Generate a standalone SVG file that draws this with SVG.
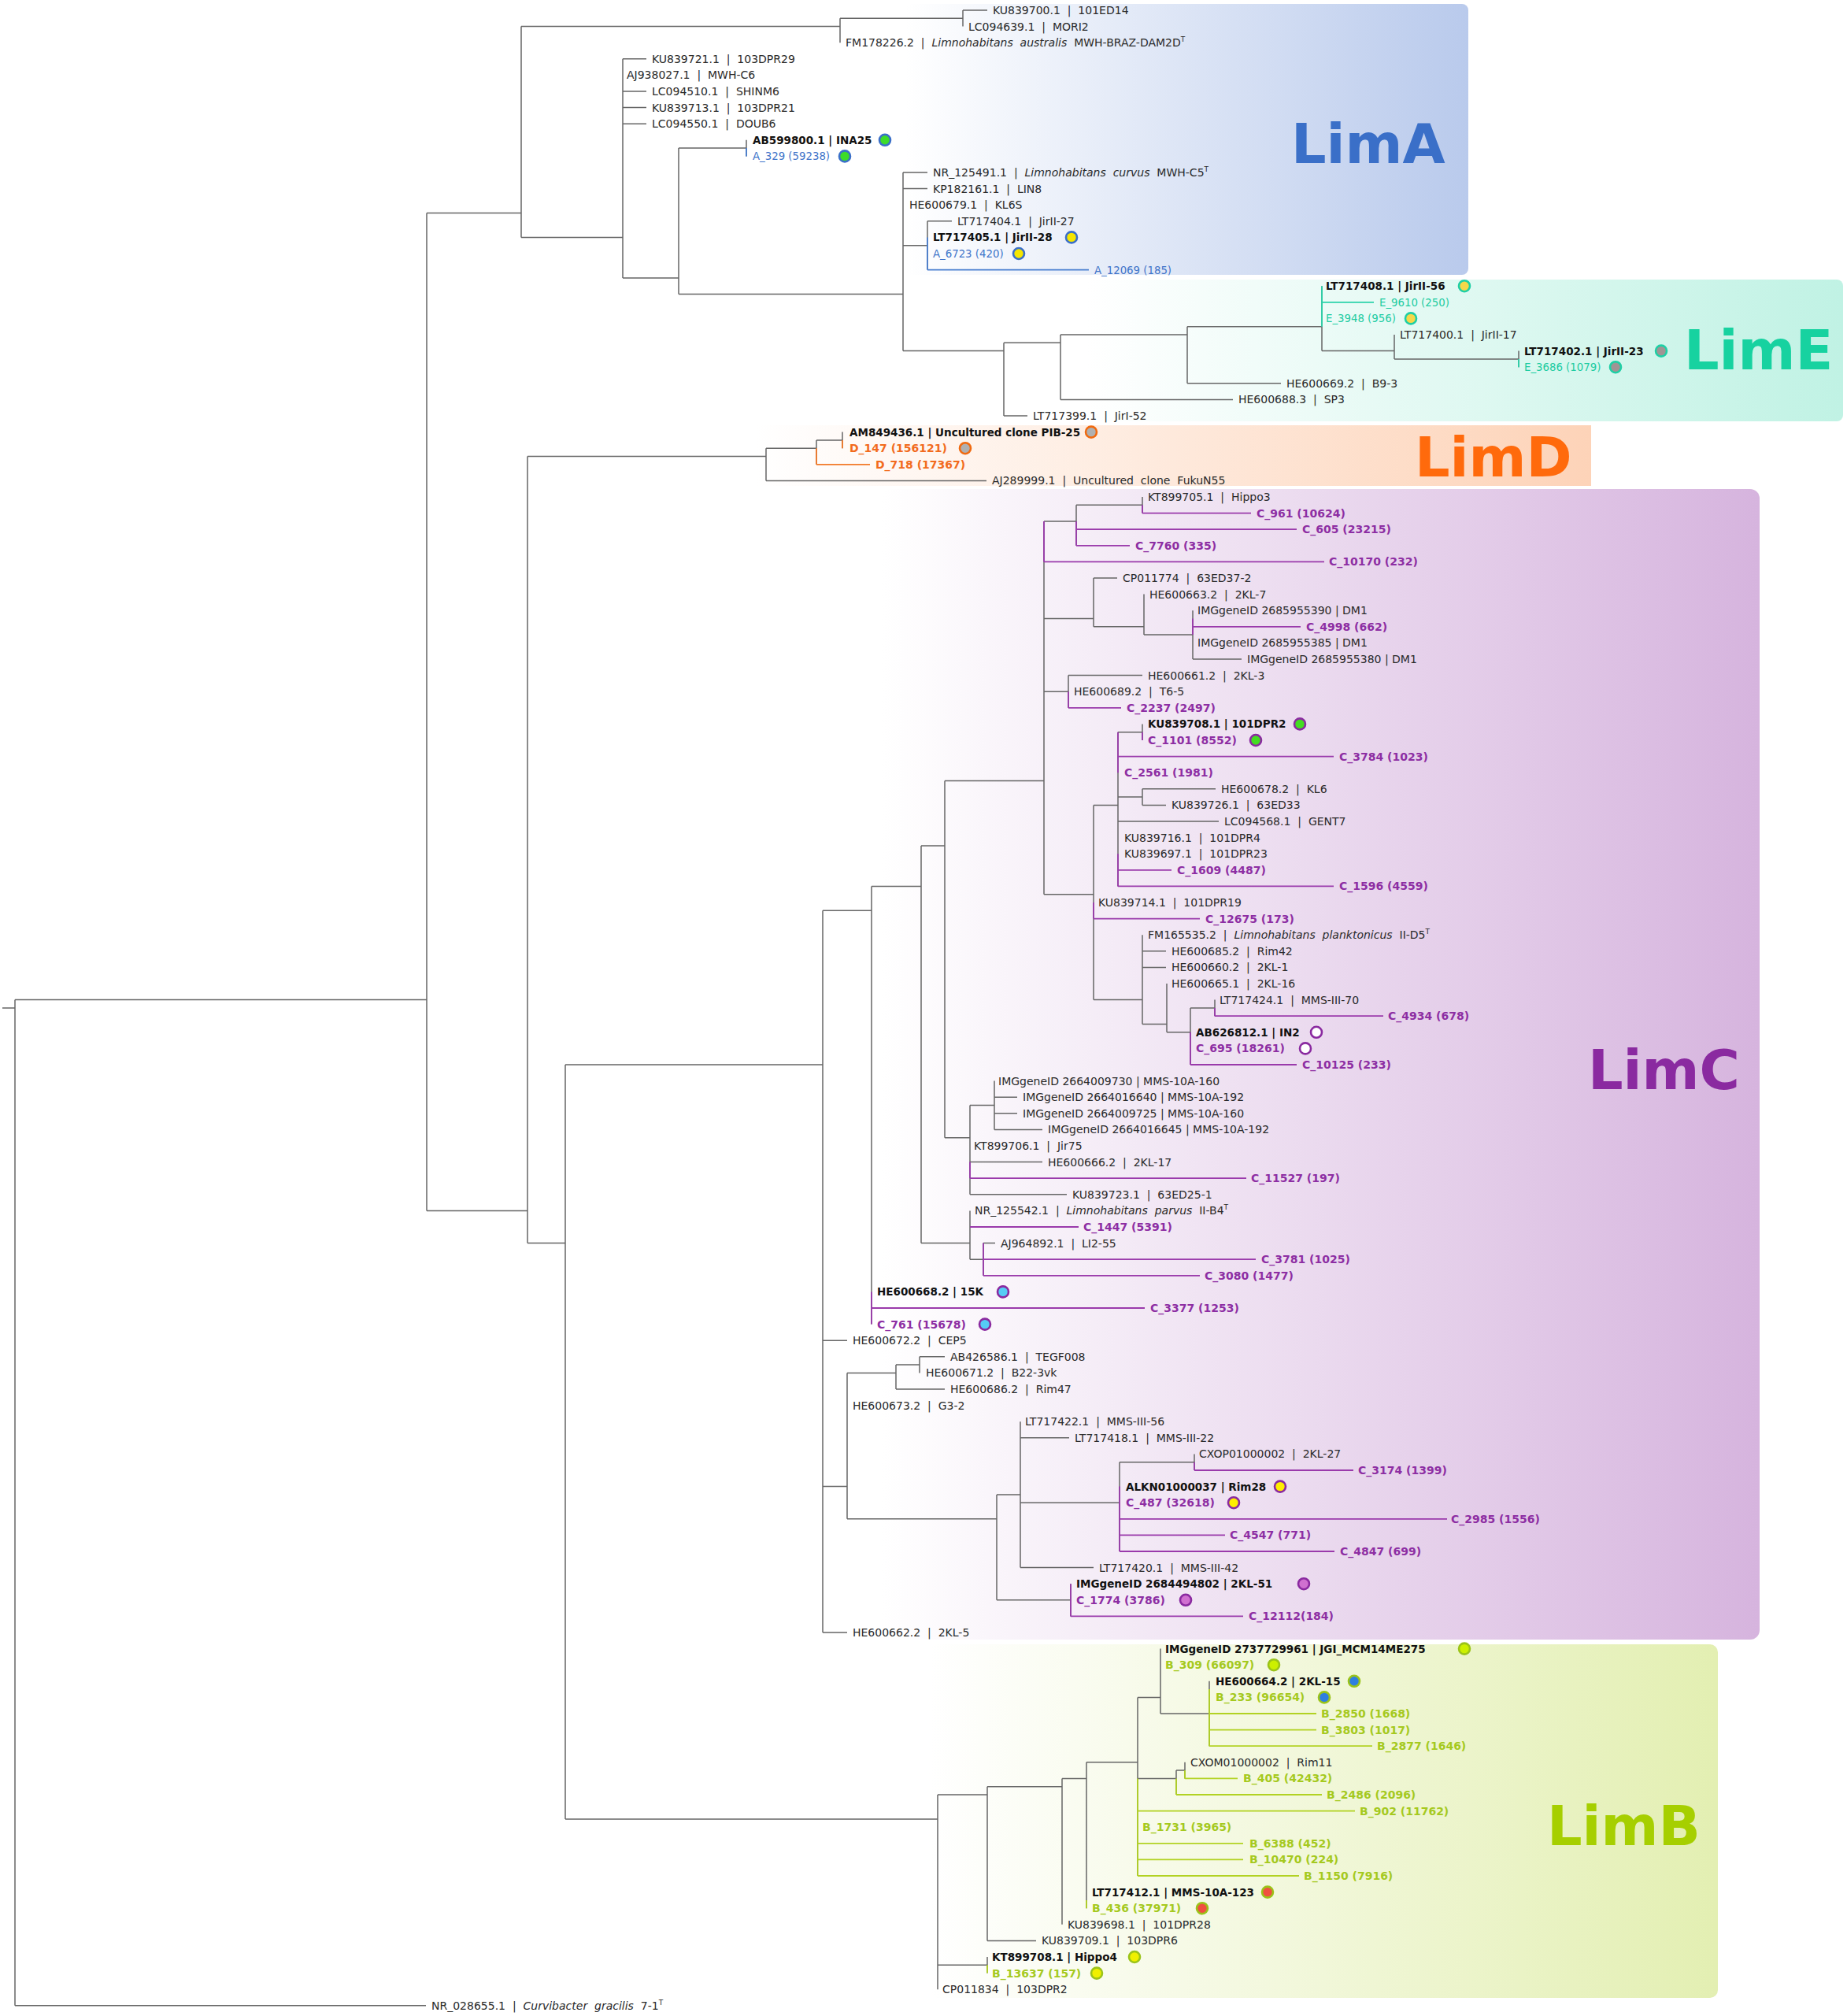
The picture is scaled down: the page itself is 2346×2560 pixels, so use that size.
<svg xmlns="http://www.w3.org/2000/svg" width="2346" height="2560" viewBox="0 0 2346 2560">
<defs>
<linearGradient id="gA" x1="0" y1="0" x2="1" y2="0"><stop offset="0" stop-color="#ffffff"/><stop offset="1" stop-color="#b9caec"/></linearGradient>
<linearGradient id="gE" x1="0" y1="0" x2="1" y2="0"><stop offset="0" stop-color="#ffffff"/><stop offset="1" stop-color="#c0f2e4"/></linearGradient>
<linearGradient id="gD" x1="0" y1="0" x2="1" y2="0"><stop offset="0" stop-color="#ffffff"/><stop offset="1" stop-color="#fdd3b8"/></linearGradient>
<linearGradient id="gC" x1="0" y1="0" x2="1" y2="0"><stop offset="0" stop-color="#ffffff"/><stop offset="1" stop-color="#d6b4de"/></linearGradient>
<linearGradient id="gB" x1="0" y1="0" x2="1" y2="0"><stop offset="0" stop-color="#ffffff"/><stop offset="1" stop-color="#e3efb2"/></linearGradient>
<style>
text{font-family:"DejaVu Sans","Liberation Sans",sans-serif}
.t{font-size:14px;fill:#2a2a2a}
.tb{font-size:13.5px;font-weight:bold;fill:#111}
.ta{font-size:13.3px;fill:#3f74c9}
.te{font-size:13.3px;fill:#1ccca2}
.td{font-size:14px;font-weight:bold;fill:#f26b1d}
.tc{font-size:14px;font-weight:bold;fill:#8d2ea3}
.tB{font-size:14px;font-weight:bold;fill:#a5c91e}
.title{font-size:70px;font-weight:bold}
.i{font-style:italic}
.sup{font-size:9px}
.gray{fill:none;stroke:#666;stroke-width:1.5}
.lA{fill:none;stroke:#4a7fd0;stroke-width:1.8}
.lE{fill:none;stroke:#2bd3aa;stroke-width:1.8}
.lD{fill:none;stroke:#f27a2a;stroke-width:1.8}
.lC{fill:none;stroke:#9a3aab;stroke-width:1.8}
.lB{fill:none;stroke:#b2d223;stroke-width:1.8}
circle{stroke-width:2.6}
.rA{stroke:#3a6fc8}.rE{stroke:#1fcfa5}.rD{stroke:#f06a10}.rC{stroke:#8a2aa0}.rB{stroke:#9bc31a}
</style>
</defs>
<rect width="2346" height="2560" fill="#ffffff"/>
<g id="clade-boxes">
<g id="box-LimA"><rect x="1150" y="5" width="715" height="344" rx="8" fill="url(#gA)"/><text class="title" x="1640" y="207" fill="#3a6fc8">LimA</text></g>
<g id="box-LimE"><rect x="1380" y="355" width="961" height="180" rx="8" fill="url(#gE)"/><text class="title" x="2139" y="469" fill="#17d2a0">LimE</text></g>
<g id="box-LimD"><rect x="960" y="540" width="1061" height="77" fill="url(#gD)"/><text class="title" x="1797" y="605" fill="#ff6a0c">LimD</text></g>
<g id="box-LimC"><rect x="1120" y="621" width="1115" height="1461" rx="12" fill="url(#gC)"/><text class="title" x="2017" y="1383" fill="#8a2aa0">LimC</text></g>
<g id="box-LimB"><rect x="1180" y="2088" width="1002" height="449" rx="10" fill="url(#gB)"/><text class="title" x="1965" y="2343" fill="#a6cf00">LimB</text></g>
</g>
<g id="connectors">
<path class="gray" d="M3 1279.9H19M19 1269.6V2546.8M19 1269.6H542M542 270.5V1537.4M542 270.5H662M662 33.6V301.4M662 33.6H1067M1067 23.3V54.2M1067 23.3H1223M1223 13V33.6M662 301.4H791M791 74.8V352.9M791 352.9H862M862 188.1V373.5M862 188.1H948M948 177.8V198.4M862 373.5H1147M1147 219V445.6M1147 311.7H1178M1178 280.8V342.6M1147 445.6H1275M1275 435.3V528M1275 435.3H1347M1347 425V507.4M1347 425H1508M1508 414.7V486.8M1508 414.7H1679M1679 363.2V445.6M1679 445.6H1771M1771 425V455.9M1771 455.9H1929M1929 445.6V466.2M542 1537.4H670M670 579.5V1578.6M670 579.5H973M973 569.2V610.4M973 569.2H1037M1037 558.9V589.8M1037 558.9H1070M1070 548.6V569.2M670 1578.6H718M718 1352V2309.9M718 1352H1045M1045 1156.3V2073M1045 1156.3H1107M1107 1125.4V1681.6M1107 1125.4H1170M1170 1073.9V1578.6M1170 1073.9H1200M1200 991.5V1444.7M1200 991.5H1326M1326 661.9V1135.7M1326 661.9H1367M1367 641.3V692.8M1367 641.3H1451M1451 631V651.6M1326 785.5H1389M1389 734V795.8M1389 795.8H1453M1453 754.6V806.1M1453 806.1H1515M1515 775.2V837M1326 878.2H1357M1357 857.6V898.8M1326 1135.7H1389M1389 1022.4V1269.6M1389 1022.4H1420M1420 929.7V1125.4M1420 929.7H1451M1451 919.4V940M1420 1012.1H1451M1451 1001.8V1022.4M1389 1269.6H1451M1451 1187.2V1300.5M1451 1300.5H1482M1482 1249V1310.8M1482 1310.8H1512M1512 1279.9V1352M1512 1279.9H1543M1543 1269.6V1290.2M1200 1444.7H1232M1232 1403.5V1516.8M1232 1403.5H1263M1263 1372.6V1434.4M1170 1578.6H1232M1232 1537.4V1599.2M1232 1599.2H1249M1249 1578.6V1619.8M1045 1887.6H1076M1076 1743.4V1928.8M1076 1743.4H1138M1138 1733.1V1764M1138 1733.1H1168M1168 1722.8V1743.4M1076 1928.8H1266M1266 1897.9V2031.8M1266 1897.9H1296M1296 1805.2V1990.6M1296 1908.2H1422M1422 1856.7V1970M1422 1856.7H1517M1517 1846.4V1867M1266 2031.8H1360M1360 2011.2V2052.4M718 2309.9H1191M1191 2279V2526.2M1191 2279H1254M1254 2268.7V2464.4M1254 2268.7H1349M1349 2258.4V2443.8M1349 2258.4H1380M1380 2237.8V2423.2M1380 2237.8H1445M1445 2155.4V2382M1445 2155.4H1474M1474 2093.6V2176M1474 2176H1536M1536 2134.8V2217.2M1445 2258.4H1494M1494 2248.1V2279M1494 2248.1H1505M1505 2237.8V2258.4M1191 2495.3H1254M1254 2485V2505.6"/>
<path class="gray" d="M1223 13H1254M791 74.8H821M791 116H821M791 136.6H821M791 157.2H821M1147 219H1178M1147 239.6H1178M1178 280.8H1209M1508 486.8H1627M1347 507.4H1566M1275 528H1305M973 610.4H1253M1389 734H1419M1515 837H1577M1357 857.6H1451M1451 1001.8H1544M1451 1022.4H1481M1420 1043H1548M1451 1207.8H1481M1451 1228.4H1481M1263 1393.2H1292M1263 1413.8H1292M1263 1434.4H1324M1232 1475.6H1324M1232 1516.8H1355M1249 1578.6H1264M1045 1702.2H1076M1168 1722.8H1200M1138 1764H1200M1296 1825.8H1358M1296 1990.6H1389M1045 2073H1076M1254 2464.4H1316M19 2546.8H541"/>
<path class="lA" d="M1178 342.6H1383M948 188.1V198.4M1178 301.4V342.6"/>
<path class="lE" d="M1679 383.8H1745M1679 363.2V414.7M1929 455.9V466.2"/>
<path class="lD" d="M1037 589.8H1105M1070 558.9V569.2M1037 569.2V589.8"/>
<path class="lC" d="M1451 651.6H1589M1367 672.2H1647M1367 692.8H1435M1326 713.4H1682M1515 795.8H1652M1357 898.8H1424M1420 960.6H1694M1420 1104.8H1488M1420 1125.4H1694M1389 1166.6H1524M1543 1290.2H1757M1512 1352H1647M1232 1496.2H1583M1232 1558H1370M1249 1599.2H1595M1249 1619.8H1524M1107 1661H1454M1517 1867H1719M1422 1928.8H1838M1422 1949.4H1556M1422 1970H1695M1360 2052.4H1579M1451 641.3V651.6M1367 661.9V692.8M1326 661.9V713.4M1515 785.5V806.1M1357 878.2V898.8M1451 929.7V940M1420 929.7V981.2M1420 1084.2V1125.4M1389 1146V1166.6M1543 1279.9V1290.2M1512 1310.8V1352M1232 1475.6V1496.2M1249 1578.6V1619.8M1107 1640.4V1681.6M1517 1856.7V1867M1422 1887.6V1970M1360 2011.2V2052.4"/>
<path class="lB" d="M1536 2176H1672M1536 2196.6H1672M1536 2217.2H1743M1505 2258.4H1572M1494 2279H1679M1445 2299.6H1721M1445 2340.8H1579M1445 2361.4H1579M1445 2382H1650M1536 2145V2217.2M1445 2258.4V2382M1494 2258.4V2279M1505 2248.1V2258.4M1380 2413V2423.2M1254 2495.3V2505.6"/>
</g>
<g id="leaves">
<g id="leaf-1"><text class="t" x="1261" y="18">KU839700.1 &#160;|&#160; 101ED14</text></g>
<g id="leaf-2"><text class="t" x="1230" y="38.6">LC094639.1 &#160;|&#160; MORI2</text></g>
<g id="leaf-3"><text class="t" x="1074" y="59.2">FM178226.2 &#160;|&#160; <tspan class="i">Limnohabitans &#160;australis</tspan> &#160;MWH-BRAZ-DAM2D<tspan class="sup" dy="-6">T</tspan></text></g>
<g id="leaf-4"><text class="t" x="828" y="79.8">KU839721.1 &#160;|&#160; 103DPR29</text></g>
<g id="leaf-5"><text class="t" x="796" y="100.4">AJ938027.1 &#160;|&#160; MWH-C6</text></g>
<g id="leaf-6"><text class="t" x="828" y="121">LC094510.1 &#160;|&#160; SHINM6</text></g>
<g id="leaf-7"><text class="t" x="828" y="141.6">KU839713.1 &#160;|&#160; 103DPR21</text></g>
<g id="leaf-8"><text class="t" x="828" y="162.2">LC094550.1 &#160;|&#160; DOUB6</text></g>
<g id="leaf-9"><text class="tb" x="956" y="182.8">AB599800.1 | INA25</text><circle class="rA" cx="1124" cy="177.8" r="7" fill="#3ddc2a"/></g>
<g id="leaf-10"><text class="ta" x="956" y="203.4">A_329 (59238)</text><circle class="rA" cx="1073" cy="198.4" r="7" fill="#3ddc2a"/></g>
<g id="leaf-11"><text class="t" x="1185" y="224">NR_125491.1 &#160;|&#160; <tspan class="i">Limnohabitans &#160;curvus</tspan> &#160;MWH-C5<tspan class="sup" dy="-6">T</tspan></text></g>
<g id="leaf-12"><text class="t" x="1185" y="244.6">KP182161.1 &#160;|&#160; LIN8</text></g>
<g id="leaf-13"><text class="t" x="1155" y="265.2">HE600679.1 &#160;|&#160; KL6S</text></g>
<g id="leaf-14"><text class="t" x="1216" y="285.8">LT717404.1 &#160;|&#160; JirII-27</text></g>
<g id="leaf-15"><text class="tb" x="1185" y="306.4">LT717405.1 | JirII-28</text><circle class="rA" cx="1361" cy="301.4" r="7" fill="#f5e600"/></g>
<g id="leaf-16"><text class="ta" x="1185" y="327">A_6723 (420)</text><circle class="rA" cx="1294" cy="322" r="7" fill="#f5e600"/></g>
<g id="leaf-17"><text class="ta" x="1390" y="347.6">A_12069 (185)</text></g>
<g id="leaf-18"><text class="tb" x="1684" y="368.2">LT717408.1 | JirII-56</text><circle class="rE" cx="1860" cy="363.2" r="7" fill="#f5d84a"/></g>
<g id="leaf-19"><text class="te" x="1752" y="388.8">E_9610 (250)</text></g>
<g id="leaf-20"><text class="te" x="1684" y="409.4">E_3948 (956)</text><circle class="rE" cx="1792" cy="404.4" r="7" fill="#f5d84a"/></g>
<g id="leaf-21"><text class="t" x="1778" y="430">LT717400.1 &#160;|&#160; JirII-17</text></g>
<g id="leaf-22"><text class="tb" x="1936" y="450.6">LT717402.1 | JirII-23</text><circle class="rE" cx="2110" cy="445.6" r="7" fill="#a09494"/></g>
<g id="leaf-23"><text class="te" x="1936" y="471.2">E_3686 (1079)</text><circle class="rE" cx="2052" cy="466.2" r="7" fill="#a09494"/></g>
<g id="leaf-24"><text class="t" x="1634" y="491.8">HE600669.2 &#160;|&#160; B9-3</text></g>
<g id="leaf-25"><text class="t" x="1573" y="512.4">HE600688.3 &#160;|&#160; SP3</text></g>
<g id="leaf-26"><text class="t" x="1312" y="533">LT717399.1 &#160;|&#160; JirI-52</text></g>
<g id="leaf-27"><text class="tb" x="1079" y="553.6">AM849436.1 | Uncultured clone PIB-25</text><circle class="rD" cx="1386" cy="548.6" r="7" fill="#b0b0b0"/></g>
<g id="leaf-28"><text class="td" x="1079" y="574.2">D_147 (156121)</text><circle class="rD" cx="1226" cy="569.2" r="7" fill="#b0b0b0"/></g>
<g id="leaf-29"><text class="td" x="1112" y="594.8">D_718 (17367)</text></g>
<g id="leaf-30"><text class="t" x="1260" y="615.4">AJ289999.1 &#160;|&#160; Uncultured &#160;clone &#160;FukuN55</text></g>
<g id="leaf-31"><text class="t" x="1458" y="636">KT899705.1 &#160;|&#160; Hippo3</text></g>
<g id="leaf-32"><text class="tc" x="1596" y="656.6">C_961 (10624)</text></g>
<g id="leaf-33"><text class="tc" x="1654" y="677.2">C_605 (23215)</text></g>
<g id="leaf-34"><text class="tc" x="1442" y="697.8">C_7760 (335)</text></g>
<g id="leaf-35"><text class="tc" x="1688" y="718.4">C_10170 (232)</text></g>
<g id="leaf-36"><text class="t" x="1426" y="739">CP011774 &#160;|&#160; 63ED37-2</text></g>
<g id="leaf-37"><text class="t" x="1460" y="759.6">HE600663.2 &#160;|&#160; 2KL-7</text></g>
<g id="leaf-38"><text class="t" x="1521" y="780.2">IMGgeneID 2685955390 | DM1</text></g>
<g id="leaf-39"><text class="tc" x="1659" y="800.8">C_4998 (662)</text></g>
<g id="leaf-40"><text class="t" x="1521" y="821.4">IMGgeneID 2685955385 | DM1</text></g>
<g id="leaf-41"><text class="t" x="1584" y="842">IMGgeneID 2685955380 | DM1</text></g>
<g id="leaf-42"><text class="t" x="1458" y="862.6">HE600661.2 &#160;|&#160; 2KL-3</text></g>
<g id="leaf-43"><text class="t" x="1364" y="883.2">HE600689.2 &#160;|&#160; T6-5</text></g>
<g id="leaf-44"><text class="tc" x="1431" y="903.8">C_2237 (2497)</text></g>
<g id="leaf-45"><text class="tb" x="1458" y="924.4">KU839708.1 | 101DPR2</text><circle class="rC" cx="1651" cy="919.4" r="7" fill="#44dd22"/></g>
<g id="leaf-46"><text class="tc" x="1458" y="945">C_1101 (8552)</text><circle class="rC" cx="1595" cy="940" r="7" fill="#44dd22"/></g>
<g id="leaf-47"><text class="tc" x="1701" y="965.6">C_3784 (1023)</text></g>
<g id="leaf-48"><text class="tc" x="1428" y="986.2">C_2561 (1981)</text></g>
<g id="leaf-49"><text class="t" x="1551" y="1006.8">HE600678.2 &#160;|&#160; KL6</text></g>
<g id="leaf-50"><text class="t" x="1488" y="1027.4">KU839726.1 &#160;|&#160; 63ED33</text></g>
<g id="leaf-51"><text class="t" x="1555" y="1048">LC094568.1 &#160;|&#160; GENT7</text></g>
<g id="leaf-52"><text class="t" x="1428" y="1068.6">KU839716.1 &#160;|&#160; 101DPR4</text></g>
<g id="leaf-53"><text class="t" x="1428" y="1089.2">KU839697.1 &#160;|&#160; 101DPR23</text></g>
<g id="leaf-54"><text class="tc" x="1495" y="1109.8">C_1609 (4487)</text></g>
<g id="leaf-55"><text class="tc" x="1701" y="1130.4">C_1596 (4559)</text></g>
<g id="leaf-56"><text class="t" x="1395" y="1151">KU839714.1 &#160;|&#160; 101DPR19</text></g>
<g id="leaf-57"><text class="tc" x="1531" y="1171.6">C_12675 (173)</text></g>
<g id="leaf-58"><text class="t" x="1458" y="1192.2">FM165535.2 &#160;|&#160; <tspan class="i">Limnohabitans &#160;planktonicus</tspan> &#160;II-D5<tspan class="sup" dy="-6">T</tspan></text></g>
<g id="leaf-59"><text class="t" x="1488" y="1212.8">HE600685.2 &#160;|&#160; Rim42</text></g>
<g id="leaf-60"><text class="t" x="1488" y="1233.4">HE600660.2 &#160;|&#160; 2KL-1</text></g>
<g id="leaf-61"><text class="t" x="1488" y="1254">HE600665.1 &#160;|&#160; 2KL-16</text></g>
<g id="leaf-62"><text class="t" x="1549" y="1274.6">LT717424.1 &#160;|&#160; MMS-III-70</text></g>
<g id="leaf-63"><text class="tc" x="1763" y="1295.2">C_4934 (678)</text></g>
<g id="leaf-64"><text class="tb" x="1519" y="1315.8">AB626812.1 | IN2</text><circle class="rC" cx="1672" cy="1310.8" r="7" fill="#ffffff"/></g>
<g id="leaf-65"><text class="tc" x="1519" y="1336.4">C_695 (18261)</text><circle class="rC" cx="1658" cy="1331.4" r="7" fill="#ffffff"/></g>
<g id="leaf-66"><text class="tc" x="1654" y="1357">C_10125 (233)</text></g>
<g id="leaf-67"><text class="t" x="1268" y="1377.6">IMGgeneID 2664009730 | MMS-10A-160</text></g>
<g id="leaf-68"><text class="t" x="1299" y="1398.2">IMGgeneID 2664016640 | MMS-10A-192</text></g>
<g id="leaf-69"><text class="t" x="1299" y="1418.8">IMGgeneID 2664009725 | MMS-10A-160</text></g>
<g id="leaf-70"><text class="t" x="1331" y="1439.4">IMGgeneID 2664016645 | MMS-10A-192</text></g>
<g id="leaf-71"><text class="t" x="1237" y="1460">KT899706.1 &#160;|&#160; Jir75</text></g>
<g id="leaf-72"><text class="t" x="1331" y="1480.6">HE600666.2 &#160;|&#160; 2KL-17</text></g>
<g id="leaf-73"><text class="tc" x="1589" y="1501.2">C_11527 (197)</text></g>
<g id="leaf-74"><text class="t" x="1362" y="1521.8">KU839723.1 &#160;|&#160; 63ED25-1</text></g>
<g id="leaf-75"><text class="t" x="1238" y="1542.4">NR_125542.1 &#160;|&#160; <tspan class="i">Limnohabitans &#160;parvus</tspan> &#160;II-B4<tspan class="sup" dy="-6">T</tspan></text></g>
<g id="leaf-76"><text class="tc" x="1376" y="1563">C_1447 (5391)</text></g>
<g id="leaf-77"><text class="t" x="1271" y="1583.6">AJ964892.1 &#160;|&#160; LI2-55</text></g>
<g id="leaf-78"><text class="tc" x="1602" y="1604.2">C_3781 (1025)</text></g>
<g id="leaf-79"><text class="tc" x="1530" y="1624.8">C_3080 (1477)</text></g>
<g id="leaf-80"><text class="tb" x="1114" y="1645.4">HE600668.2 | 15K</text><circle class="rC" cx="1274" cy="1640.4" r="7" fill="#55ccf5"/></g>
<g id="leaf-81"><text class="tc" x="1461" y="1666">C_3377 (1253)</text></g>
<g id="leaf-82"><text class="tc" x="1114" y="1686.6">C_761 (15678)</text><circle class="rC" cx="1251" cy="1681.6" r="7" fill="#55ccf5"/></g>
<g id="leaf-83"><text class="t" x="1083" y="1707.2">HE600672.2 &#160;|&#160; CEP5</text></g>
<g id="leaf-84"><text class="t" x="1207" y="1727.8">AB426586.1 &#160;|&#160; TEGF008</text></g>
<g id="leaf-85"><text class="t" x="1176" y="1748.4">HE600671.2 &#160;|&#160; B22-3vk</text></g>
<g id="leaf-86"><text class="t" x="1207" y="1769">HE600686.2 &#160;|&#160; Rim47</text></g>
<g id="leaf-87"><text class="t" x="1083" y="1789.6">HE600673.2 &#160;|&#160; G3-2</text></g>
<g id="leaf-88"><text class="t" x="1302" y="1810.2">LT717422.1 &#160;|&#160; MMS-III-56</text></g>
<g id="leaf-89"><text class="t" x="1365" y="1830.8">LT717418.1 &#160;|&#160; MMS-III-22</text></g>
<g id="leaf-90"><text class="t" x="1523" y="1851.4">CXOP01000002 &#160;|&#160; 2KL-27</text></g>
<g id="leaf-91"><text class="tc" x="1725" y="1872">C_3174 (1399)</text></g>
<g id="leaf-92"><text class="tb" x="1430" y="1892.6">ALKN01000037 | Rim28</text><circle class="rC" cx="1626" cy="1887.6" r="7" fill="#ffee00"/></g>
<g id="leaf-93"><text class="tc" x="1430" y="1913.2">C_487 (32618)</text><circle class="rC" cx="1567" cy="1908.2" r="7" fill="#ffee00"/></g>
<g id="leaf-94"><text class="tc" x="1843" y="1933.8">C_2985 (1556)</text></g>
<g id="leaf-95"><text class="tc" x="1562" y="1954.4">C_4547 (771)</text></g>
<g id="leaf-96"><text class="tc" x="1702" y="1975">C_4847 (699)</text></g>
<g id="leaf-97"><text class="t" x="1396" y="1995.6">LT717420.1 &#160;|&#160; MMS-III-42</text></g>
<g id="leaf-98"><text class="tb" x="1367" y="2016.2">IMGgeneID 2684494802 | 2KL-51</text><circle class="rC" cx="1656" cy="2011.2" r="7" fill="#d070d0"/></g>
<g id="leaf-99"><text class="tc" x="1367" y="2036.8">C_1774 (3786)</text><circle class="rC" cx="1506" cy="2031.8" r="7" fill="#d070d0"/></g>
<g id="leaf-100"><text class="tc" x="1586" y="2057.4">C_12112(184)</text></g>
<g id="leaf-101"><text class="t" x="1083" y="2078">HE600662.2 &#160;|&#160; 2KL-5</text></g>
<g id="leaf-102"><text class="tb" x="1480" y="2098.6">IMGgeneID 2737729961 | JGI_MCM14ME275</text><circle class="rB" cx="1860" cy="2093.6" r="7" fill="#ccf000"/></g>
<g id="leaf-103"><text class="tB" x="1480" y="2119.2">B_309 (66097)</text><circle class="rB" cx="1618" cy="2114.2" r="7" fill="#ccf000"/></g>
<g id="leaf-104"><text class="tb" x="1544" y="2139.8">HE600664.2 | 2KL-15</text><circle class="rB" cx="1720" cy="2134.8" r="7" fill="#2f7fe0"/></g>
<g id="leaf-105"><text class="tB" x="1544" y="2160.4">B_233 (96654)</text><circle class="rB" cx="1682" cy="2155.4" r="7" fill="#2f7fe0"/></g>
<g id="leaf-106"><text class="tB" x="1678" y="2181">B_2850 (1668)</text></g>
<g id="leaf-107"><text class="tB" x="1678" y="2201.6">B_3803 (1017)</text></g>
<g id="leaf-108"><text class="tB" x="1749" y="2222.2">B_2877 (1646)</text></g>
<g id="leaf-109"><text class="t" x="1512" y="2242.8">CXOM01000002 &#160;|&#160; Rim11</text></g>
<g id="leaf-110"><text class="tB" x="1579" y="2263.4">B_405 (42432)</text></g>
<g id="leaf-111"><text class="tB" x="1685" y="2284">B_2486 (2096)</text></g>
<g id="leaf-112"><text class="tB" x="1727" y="2304.6">B_902 (11762)</text></g>
<g id="leaf-113"><text class="tB" x="1451" y="2325.2">B_1731 (3965)</text></g>
<g id="leaf-114"><text class="tB" x="1587" y="2345.8">B_6388 (452)</text></g>
<g id="leaf-115"><text class="tB" x="1587" y="2366.4">B_10470 (224)</text></g>
<g id="leaf-116"><text class="tB" x="1656" y="2387">B_1150 (7916)</text></g>
<g id="leaf-117"><text class="tb" x="1387" y="2407.6">LT717412.1 | MMS-10A-123</text><circle class="rB" cx="1610" cy="2402.6" r="7" fill="#f05040"/></g>
<g id="leaf-118"><text class="tB" x="1387" y="2428.2">B_436 (37971)</text><circle class="rB" cx="1527" cy="2423.2" r="7" fill="#f05040"/></g>
<g id="leaf-119"><text class="t" x="1356" y="2448.8">KU839698.1 &#160;|&#160; 101DPR28</text></g>
<g id="leaf-120"><text class="t" x="1323" y="2469.4">KU839709.1 &#160;|&#160; 103DPR6</text></g>
<g id="leaf-121"><text class="tb" x="1260" y="2490">KT899708.1 | Hippo4</text><circle class="rB" cx="1441" cy="2485" r="7" fill="#f0f000"/></g>
<g id="leaf-122"><text class="tB" x="1260" y="2510.6">B_13637 (157)</text><circle class="rB" cx="1393" cy="2505.6" r="7" fill="#f0f000"/></g>
<g id="leaf-123"><text class="t" x="1197" y="2531.2">CP011834 &#160;|&#160; 103DPR2</text></g>
<g id="leaf-124"><text class="t" x="548" y="2551.8">NR_028655.1 &#160;|&#160; <tspan class="i">Curvibacter &#160;gracilis</tspan> &#160;7-1<tspan class="sup" dy="-6">T</tspan></text></g>
</g>
</svg>
